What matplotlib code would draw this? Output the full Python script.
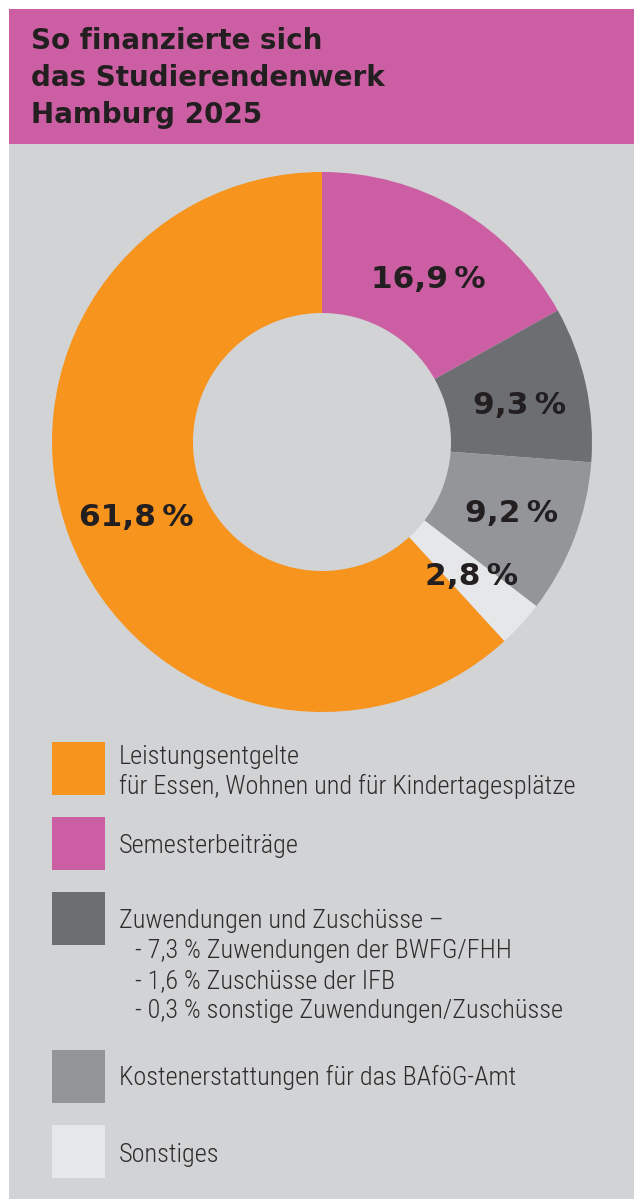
import numpy as np
import matplotlib
matplotlib.use("Agg")
import matplotlib.pyplot as plt
from matplotlib.patches import Rectangle

# ---- data ----
categories = ["Semesterbeiträge", "Zuwendungen und Zuschüsse",
              "Kostenerstattungen für das BAföG-Amt", "Sonstiges",
              "Leistungsentgelte"]
values = [16.9, 9.3, 9.2, 2.8, 61.8]
colors = ["#CC5FA3", "#6D6E71", "#939598", "#E6E7E8", "#F7941D"]

legend_colors = ["#F7941D", "#CC5FA3", "#6D6E71", "#939598", "#E6E7E8"]
legend_texts = [
    ["Leistungsentgelte", "für Essen, Wohnen und für Kindertagesplätze"],
    ["Semesterbeiträge"],
    ["Zuwendungen und Zuschüsse –",
     "- 7,3 % Zuwendungen der BWFG/FHH",
     "- 1,6 % Zuschüsse der IFB",
     "- 0,3 % sonstige Zuwendungen/Zuschüsse"],
    ["Kostenerstattungen für das BAföG-Amt"],
    ["Sonstiges"],
]
title_lines = ["So finanzierte sich", "das Studierendenwerk", "Hamburg 2025"]

W, H = 634, 1200
BG = "#D1D3D4"
MAGENTA = "#CC5FA3"
TXT = "#231F20"
LEG_TXT = "#2e2c2d"
LEG_FONT = ["Liberation Sans Narrow", "Roboto Condensed", "Liberation Sans", "DejaVu Sans"]

fig = plt.figure(figsize=(W / 100, H / 100), dpi=100)
fig.patch.set_facecolor("white")

# full-figure pixel axes
bg = fig.add_axes([0, 0, 1, 1])
bg.set_xlim(0, W)
bg.set_ylim(H, 0)
bg.axis("off")

bg.add_patch(Rectangle((9, 143), W - 9, 1199 - 143, facecolor=BG, edgecolor="none"))
bg.add_patch(Rectangle((9, 9), W - 9, 135, facecolor=MAGENTA, edgecolor="none"))

for i, line in enumerate(title_lines):
    bg.text(31, 49 + 37 * i, line, fontsize=20, fontweight="bold",
            family="DejaVu Sans", color=TXT, va="baseline", ha="left")

# ---- donut ----
cx, cy, R, r_in = 322, 442, 270, 129
ax = fig.add_axes([(cx - R) / W, (H - (cy + R)) / H, 2 * R / W, 2 * R / H])
wedges, _ = ax.pie(values, colors=colors, startangle=90, counterclock=False,
                   radius=1.0, wedgeprops=dict(width=1 - r_in / R, linewidth=0))
ax.set_xlim(-1, 1)
ax.set_ylim(-1, 1)
ax.axis("off")

label_r = (1 + r_in / R) / 2
offsets = [(0.02, -0.035), (0.01, -0.025), (0.01, 0), (0.01, 0.0), (0, -0.012)]
for w, v, off in zip(wedges, values, offsets):
    ang = np.deg2rad((w.theta1 + w.theta2) / 2)
    x = label_r * np.cos(ang) + off[0]
    y = label_r * np.sin(ang) + off[1]
    s = f"{v:.1f}".replace(".", ",") + "\u2009%"
    ax.text(x, y, s, ha="center", va="center", fontsize=22.5,
            fontweight="bold", family="DejaVu Sans", color=TXT)

# ---- legend ----
sq_x, sq_w = 52, 53
sq_tops = [742, 817, 892, 1050, 1125]
first_baselines = [764, 853, 928, 1085, 1162]
line_gap = 30
for col, lines, top, base in zip(legend_colors, legend_texts, sq_tops, first_baselines):
    bg.add_patch(Rectangle((sq_x, top), sq_w, sq_w, facecolor=col, edgecolor="none"))
    for j, ln in enumerate(lines):
        tx = 135 if ln.startswith("-") else 119
        bg.text(tx, base + line_gap * j, ln, fontsize=18.9,
                family=LEG_FONT, fontstretch="condensed", fontweight="light",
                color=LEG_TXT, va="baseline", ha="left")

fig.savefig("out.png", dpi=100, facecolor="white")
